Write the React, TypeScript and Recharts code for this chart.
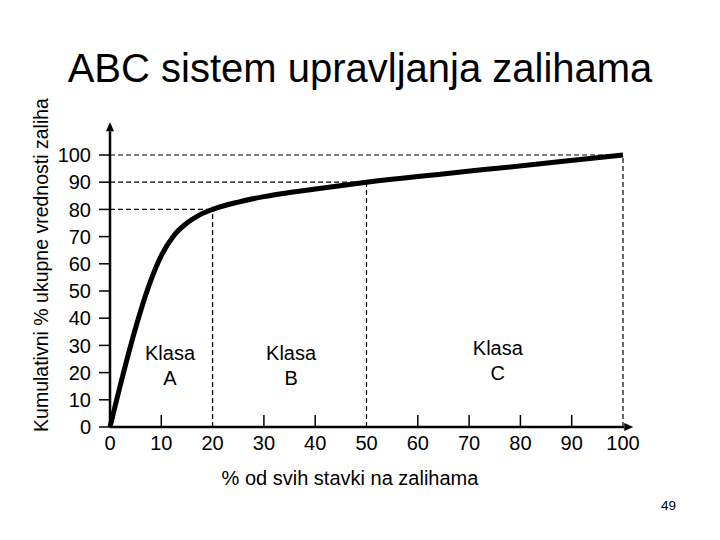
import React from "react";
import { LineChart, Line, XAxis, YAxis, ReferenceLine, ReferenceDot } from "recharts";

// % of items (x) vs cumulative % of stock value (y)
const itemShare = [0, 2.5, 5, 7.5, 10, 12.5, 15, 17.5, 20, 25, 30, 35, 40, 50, 75, 100];
const valueShare = [0, 19, 36.5, 51.5, 63, 70.5, 75, 78, 80, 82.7, 84.7, 86.2, 87.5, 90, 95, 100];

const xTicks = [0, 10, 20, 30, 40, 50, 60, 70, 80, 90, 100];
const yTicks = [0, 10, 20, 30, 40, 50, 60, 70, 80, 90, 100];

// class boundaries
const classNames = ["A", "B", "C"];
const classEnds = [20, 50, 100];
const classCumValue = [80, 90, 100];
const classLabelX = [11.7, 35.3, 75.6];
const classLabelY = [24.6, 24.6, 26.5];

const data = itemShare.map((x, i) => ({ x, y: valueShare[i] }));

const font = "'Liberation Sans', Arial, sans-serif";

const ArrowLine = (p: any) => {
  const { x1, y1, x2, y2 } = p;
  const ang = Math.atan2(y2 - y1, x2 - x1);
  const len = 9;
  const w = 4;
  const bx = x2 - len * Math.cos(ang);
  const by = y2 - len * Math.sin(ang);
  const px = -Math.sin(ang) * w;
  const py = Math.cos(ang) * w;
  return (
    <g>
      <line x1={x1} y1={y1} x2={bx} y2={by} stroke="#000" strokeWidth={2.5} />
      <polygon points={`${x2},${y2} ${bx + px},${by + py} ${bx - px},${by - py}`} fill="#000" />
    </g>
  );
};

const XTick = (p: any) => {
  const { x, y, payload } = p;
  const v = payload.value;
  const showMark = v !== 0 && !classEnds.includes(v);
  return (
    <g>
      {showMark && <line x1={x} x2={x} y1={y} y2={y - 12} stroke="#000" strokeWidth={1.5} />}
      <text x={x} y={y + 23} textAnchor="middle" fontSize={20} fontFamily={font} fill="#000">
        {v}
      </text>
    </g>
  );
};

const ClassLabel = (name: string) => (p: any) => (
  <g>
    <text x={p.cx} y={p.cy} textAnchor="middle" fontSize={20} fontFamily={font} fill="#000">
      Klasa
    </text>
    <text x={p.cx} y={p.cy + 25} textAnchor="middle" fontSize={20} fontFamily={font} fill="#000">
      {name}
    </text>
  </g>
);

export default function App() {
  return (
    <div style={{ position: "absolute", left: 0, top: 0, width: 720, height: 540, background: "#fff" }}>
      <LineChart width={720} height={540} data={data} margin={{ top: 155, right: 97, bottom: 73, left: 0 }}>
        <XAxis
          dataKey="x"
          type="number"
          domain={[0, 100]}
          ticks={xTicks}
          interval={0}
          height={40}
          axisLine={false}
          tickLine={false}
          tickSize={0}
          tickMargin={0}
          tick={<XTick />}
        />
        <YAxis
          type="number"
          domain={[0, 100]}
          ticks={yTicks}
          interval={0}
          width={110}
          axisLine={false}
          tickSize={11}
          tickMargin={8}
          tickLine={{ stroke: "#000", strokeWidth: 1.5 }}
          tick={{ fill: "#000", fontSize: 20, fontFamily: font }}
        />
        {classEnds.map((end, i) => (
          <ReferenceLine
            key={"h" + i}
            segment={[{ x: 0, y: classCumValue[i] }, { x: end, y: classCumValue[i] }]}
            stroke="#000"
            strokeWidth={1.2}
            strokeDasharray="5 3"
            ifOverflow="visible"
          />
        ))}
        {classEnds.map((end, i) => (
          <ReferenceLine
            key={"v" + i}
            segment={[{ x: end, y: 0 }, { x: end, y: classCumValue[i] }]}
            stroke="#000"
            strokeWidth={1.2}
            strokeDasharray="5 3"
            ifOverflow="visible"
          />
        ))}
        {classNames.map((n, i) => (
          <ReferenceDot
            key={n}
            x={classLabelX[i]}
            y={classLabelY[i]}
            r={0}
            ifOverflow="visible"
            shape={ClassLabel(n)}
          />
        ))}
        <Line
          type="monotone"
          dataKey="y"
          stroke="#000"
          strokeWidth={5}
          dot={false}
          isAnimationActive={false}
        />
        <ReferenceLine segment={[{ x: 0, y: 0 }, { x: 0, y: 112 }]} ifOverflow="visible" shape={ArrowLine} />
        <ReferenceLine segment={[{ x: 0, y: 0 }, { x: 102, y: 0 }]} ifOverflow="visible" shape={ArrowLine} />
      </LineChart>
      <svg width={720} height={540} style={{ position: "absolute", left: 0, top: 0, pointerEvents: "none" }}>
        <text x={360} y={82} textAnchor="middle" fontSize={40} fontFamily={font} fill="#000">
          ABC sistem upravljanja zalihama
        </text>
        <text
          transform="translate(48,265) rotate(-90)"
          textAnchor="middle"
          fontSize={19.5}
          fontFamily={font}
          fill="#000"
        >
          Kumulativni % ukupne vrednosti zaliha
        </text>
        <text x={350} y={485} textAnchor="middle" fontSize={20} fontFamily={font} fill="#000">
          % od svih stavki na zalihama
        </text>
        <text x={676} y={510} textAnchor="end" fontSize={13.5} fontFamily={font} fill="#000">
          49
        </text>
      </svg>
    </div>
  );
}
